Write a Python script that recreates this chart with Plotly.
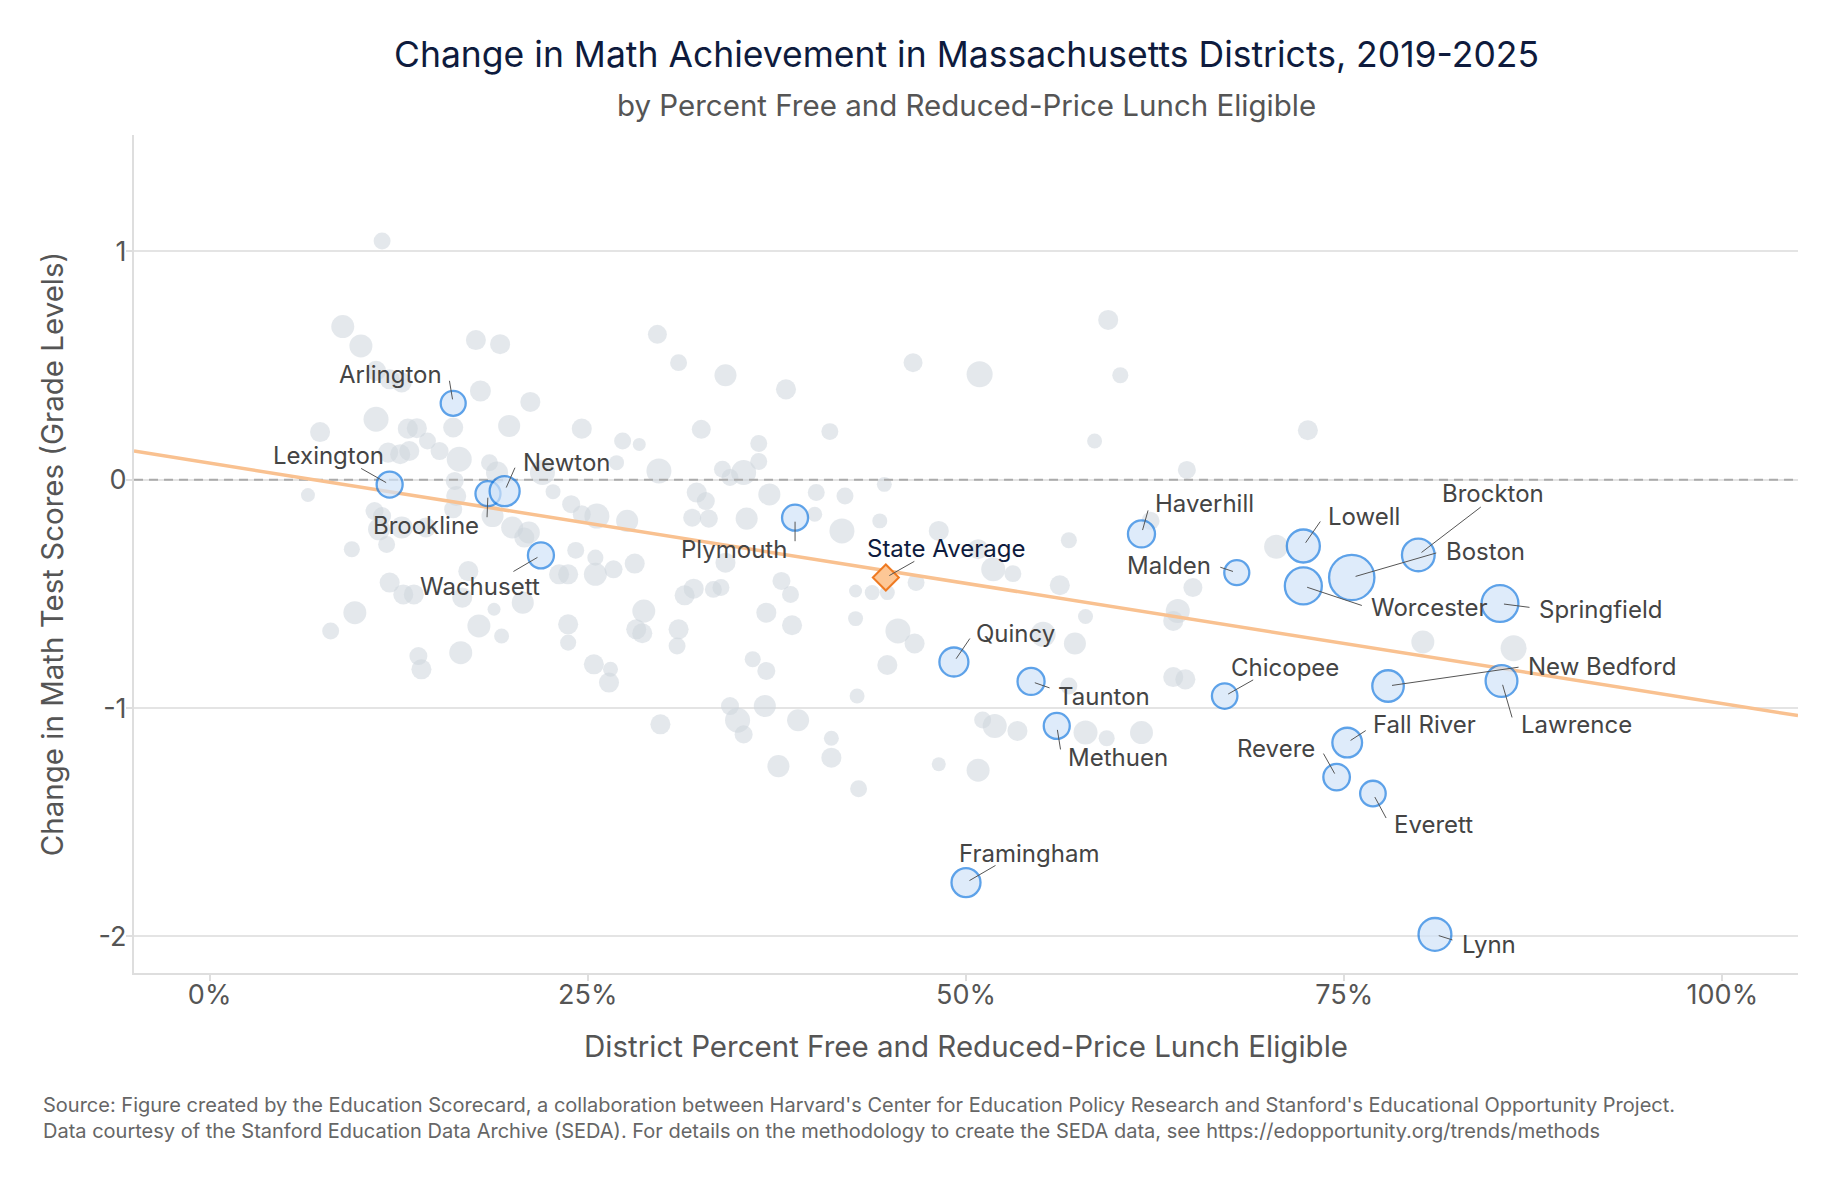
import plotly.graph_objects as go

# ---- data ----
# percent FRL eligible (x), change in grade levels (y), enrollment in thousands (marker area)
gray_frl = [
    11.4, 8.8, 10.0, 17.6, 19.2, 11.0, 11.9, 12.7, 17.9, 21.2, 11.0, 16.1, 19.8, 24.6, 7.3,
    13.1, 13.7, 14.4, 15.2, 11.8, 12.6, 13.2, 16.5, 18.5, 19.0, 22.0, 16.2, 22.7, 6.5, 16.3,
    23.9, 24.6, 25.6, 10.9, 11.4, 16.1, 18.7, 11.2, 12.7, 14.3, 20.0, 21.1, 20.8, 11.7, 9.4,
    24.2, 25.5, 17.1, 23.1, 23.7, 25.5, 11.9, 20.7, 12.8, 13.5, 16.7, 9.6, 18.8, 17.8, 23.7,
    8.0, 19.3, 23.7, 13.8, 16.6, 14.0, 25.4, 29.6, 31.0, 34.1, 38.1, 32.5, 41.0, 27.3, 28.4,
    36.3, 36.3, 29.7, 33.9, 35.3, 34.4, 26.9, 44.6, 32.2, 32.8, 37.0, 40.1, 42.0, 27.6, 31.9,
    33.0, 35.5, 40.0, 41.8, 44.3, 34.1, 28.1, 26.7, 37.8, 38.4, 31.4, 32.0, 33.3, 33.8, 42.7,
    43.8, 44.8, 28.7, 36.8, 38.5, 42.7, 28.2, 28.6, 31.0, 30.9, 26.5, 26.4, 35.9, 36.8, 44.8,
    42.8, 34.4, 36.7, 29.8, 34.9, 35.3, 38.9, 37.6, 41.1, 41.1, 59.4, 46.5, 50.9, 60.2, 58.5,
    72.6, 64.6, 48.2, 56.8, 51.8, 53.1, 50.8, 46.7, 56.2, 70.5, 65.0, 64.0, 63.7, 57.9, 45.5,
    46.6, 55.1, 57.2, 56.8, 63.7, 64.5, 62.2, 51.1, 51.9, 53.4, 57.9, 59.3, 61.6, 42.9, 48.2,
    50.8, 80.2, 86.2,
]
gray_change = [
    1.046, 0.671, 0.586, 0.612, 0.594, 0.477, 0.44, 0.426, 0.389, 0.341, 0.265, 0.229, 0.236, 0.224, 0.209,
    0.224, 0.226, 0.170, 0.126, 0.119, 0.112, 0.126, 0.090, 0.075, 0.032, 0.032, -0.005, -0.052, -0.067, -0.071,
    -0.107, -0.151, -0.159, -0.137, -0.159, -0.129, -0.159, -0.217, -0.209, -0.209, -0.209, -0.231, -0.253, -0.283, -0.304,
    -0.309, -0.341, -0.40, -0.414, -0.414, -0.414, -0.45, -0.538, -0.502, -0.502, -0.516, -0.582, -0.567, -0.64, -0.633,
    -0.662, -0.684, -0.713, -0.772, -0.757, -0.83, -0.808, 0.637, 0.513, 0.458, 0.396, 0.221, 0.211, 0.17, 0.155,
    0.159, 0.08, 0.039, 0.046, 0.032, 0.01, 0.075, -0.02, -0.056, -0.093, -0.064, -0.056, -0.071, -0.18, -0.166,
    -0.17, -0.17, -0.151, -0.224, -0.18, -0.363, -0.367, -0.392, -0.443, -0.502, -0.506, -0.477, -0.48, -0.472, -0.487,
    -0.494, -0.494, -0.575, -0.582, -0.637, -0.608, -0.655, -0.672, -0.655, -0.728, -0.83, -0.888, -0.786, -0.837, -0.811,
    -0.947, -0.991, -0.991, -1.071, -1.053, -1.115, -1.053, -1.254, -1.132, -1.217, 0.70, 0.513, 0.462, 0.458, 0.17,
    0.217, 0.043, -0.224, -0.265, -0.392, -0.411, -0.304, -0.45, -0.462, -0.293, -0.472, -0.575, -0.618, -0.599, -0.662,
    -0.717, -0.677, -0.717, -0.903, -0.864, -0.874, -0.18, -1.052, -1.078, -1.10, -1.107, -1.132, -1.107, -1.353, -1.246,
    -1.272, -0.71, -0.738,
]
gray_enroll = [
    6.8, 12.5, 12.5, 9.5, 9.5, 9.5, 9.5, 9.5, 10.4, 9.5, 14.8, 9.5, 11.5, 9.5, 9.5,
    9.5, 9.5, 6.8, 7.7, 9.5, 9.5, 9.5, 14.8, 6.8, 11.5, 14.8, 7.7, 5.3, 4.6, 9.5,
    7.7, 7.7, 14.8, 7.7, 7.7, 7.7, 11.5, 11.5, 11.5, 9.5, 11.5, 11.5, 9.5, 6.8, 6.1,
    6.8, 6.1, 9.5, 9.5, 9.5, 12.5, 9.5, 11.5, 9.5, 9.5, 9.5, 12.5, 4.0, 12.5, 9.5,
    6.8, 5.3, 6.1, 7.7, 12.5, 9.5, 9.5, 8.5, 6.8, 11.5, 9.5, 8.5, 6.8, 6.8, 4.0,
    6.8, 6.8, 14.8, 6.8, 14.8, 6.8, 5.3, 5.3, 9.5, 7.7, 11.5, 6.8, 6.8, 11.5, 7.7,
    7.7, 11.5, 5.3, 14.8, 5.3, 9.5, 9.5, 7.7, 7.7, 6.8, 9.5, 9.5, 6.8, 6.8, 4.0,
    5.3, 5.3, 12.5, 9.5, 9.5, 5.3, 9.5, 9.5, 9.5, 6.8, 5.3, 9.5, 6.1, 7.7, 9.5,
    5.3, 7.7, 11.5, 9.5, 14.8, 7.7, 11.5, 11.5, 5.3, 9.5, 9.5, 8.5, 16.0, 6.1, 5.3,
    9.5, 7.7, 9.5, 6.1, 13.6, 6.8, 9.5, 6.8, 9.5, 13.6, 8.5, 13.6, 9.5, 5.3, 14.8,
    9.5, 14.8, 11.5, 6.8, 9.5, 9.5, 7.7, 6.8, 13.6, 9.5, 13.6, 6.1, 12.5, 6.8, 4.6,
    12.5, 12.5, 16.0,
]

# named districts
named = [
    "Arlington", "Lexington", "Brookline", "Newton", "Wachusett", "Plymouth",
    "Quincy", "Taunton", "Methuen", "Framingham", "Haverhill", "Malden",
    "Chicopee", "Lowell", "Worcester", "Boston", "Brockton", "Springfield",
    "New Bedford", "Lawrence", "Fall River", "Revere", "Everett", "Lynn",
]
named_frl = [
    16.1, 11.9, 18.4, 19.5, 21.9, 38.7,
    49.2, 54.3, 56.0, 50.0, 61.6, 67.9,
    67.1, 72.3, 72.3, 75.5, 79.9, 85.3,
    77.9, 85.4, 75.2, 74.5, 76.9, 81.0,
]
named_change = [
    0.335, -0.021, -0.061, -0.050, -0.331, -0.166,
    -0.798, -0.883, -1.078, -1.764, -0.237, -0.407,
    -0.947, -0.290, -0.465, -0.428, -0.329, -0.542,
    -0.903, -0.881, -1.151, -1.302, -1.374, -1.991,
]
named_enroll = [
    14.8, 16.0, 14.8, 21.3, 16.0, 16.0,
    19.9, 17.3, 16.0, 19.9, 17.3, 14.8,
    15.4, 25.8, 32.4, 48.6, 25.3, 32.1,
    23.5, 23.9, 20.9, 16.7, 15.5, 25.5,
]

state_frl = 44.7
state_change = -0.428

trend_intercept = 0.073
trend_slope = -0.01053  # grade levels per percentage point

x_ticks = [0, 25, 50, 75, 100]
x_ticklabels = ["0%", "25%", "50%", "75%", "100%"]
y_ticks = [-2, -1, 0, 1]
y_ticklabels = ["-2", "-1", "0", "1"]

X_RANGE = [-5, 105]
Y_RANGE = [-2.16, 1.51]

# label placement: connector tail offset (px) and label offset (px), anchor
label_pos = {
    "Arlington": (-4, -24, -9, -29, "right"),
    "Lexington": (-30, -17, -4, -29, "right"),
    "Brookline": (-1, 25, -7, 32, "right"),
    "Newton": (11, -25, 16, -29, "left"),
    "Wachusett": (-29, 17, 1, 31, "right"),
    "Plymouth": (0, 25, -6, 32, "right"),
    "Quincy": (17, -25, 20, -29, "left"),
    "Taunton": (20, 7, 25, 15, "left"),
    "Methuen": (4, 25, 9, 32, "left"),
    "Framingham": (31, -18, -9, -29, "left"),
    "Haverhill": (7, -25, 12, -30, "left"),
    "Malden": (-18, -6, -24, -7, "right"),
    "Chicopee": (30, -17, 4, -29, "left"),
    "Lowell": (18, -26, 23, -30, "left"),
    "Worcester": (60, 20, 66, 22, "left"),
    "Boston": (86, -25, 92, -26, "left"),
    "Brockton": (64, -49, 75, -61, "center"),
    "Springfield": (31, 4, 37, 6, "left"),
    "New Bedford": (132, -19, 138, -19, "left"),
    "Lawrence": (11, 38, 17, 44, "left"),
    "Fall River": (20, -13, 24, -18, "left"),
    "Revere": (-14, -25, -20, -29, "right"),
    "Everett": (14, 26, 19, 31, "left"),
    "Lynn": (19, 6, 25, 10, "left"),
    "State Average": (30, -17, -21, -29, "left"),
}

FONT = "Inter, 'Open Sans', sans-serif"
C = 6.5  # px of diameter per sqrt(thousand students)
SIZEREF = 2.0 / C ** 2

fig = go.Figure()

fig.add_trace(go.Scatter(
    x=gray_frl, y=gray_change, mode="markers", hoverinfo="skip",
    marker=dict(size=gray_enroll, sizemode="area", sizeref=SIZEREF,
                color="rgba(206,213,221,0.78)", line=dict(width=0)),
))

# reference line at zero
fig.add_trace(go.Scatter(
    x=X_RANGE, y=[0, 0], mode="lines", hoverinfo="skip",
    line=dict(color="#ababab", width=2, dash="9px,6px"),
))

# fitted trend
fig.add_trace(go.Scatter(
    x=X_RANGE, y=[trend_intercept + trend_slope * v for v in X_RANGE],
    mode="lines", hoverinfo="skip",
    line=dict(color="#f9c190", width=3.5),
))

fig.add_trace(go.Scatter(
    x=named_frl, y=named_change, mode="markers", text=named, hoverinfo="text",
    marker=dict(size=named_enroll, sizemode="area", sizeref=SIZEREF,
                color="#d1e3f8", line=dict(color="#1a7be0", width=2.3)),
))

fig.add_trace(go.Scatter(
    x=[state_frl], y=[state_change], mode="markers", hoverinfo="skip",
    marker=dict(symbol="diamond", size=20, color="#fdc796",
                line=dict(color="#ef7a22", width=2)),
))

annotations = []
pts = list(zip(named, named_frl, named_change)) + [("State Average", state_frl, state_change)]
for name, x, y in pts:
    tx, ty, lx, ly, anchor = label_pos[name]
    annotations.append(dict(
        x=x, y=y, text="", showarrow=True, ax=tx, ay=ty,
        arrowhead=0, arrowwidth=1, arrowcolor="#555", standoff=4,
    ))
    annotations.append(dict(
        x=x, y=y, text=name, showarrow=False, xshift=lx, yshift=-ly,
        xanchor=anchor, yanchor="middle",
        font=dict(family=FONT, size=24,
                  color="#0e1b3d" if name == "State Average" else "#444"),
    ))

annotations += [
    dict(xref="paper", yref="paper", x=0.5, y=1.0955, showarrow=False,
         text="Change in Math Achievement in Massachusetts Districts, 2019-2025",
         font=dict(family=FONT, size=35.5, color="#0e1b3d"), yanchor="middle"),
    dict(xref="paper", yref="paper", x=0.5, y=1.0358, showarrow=False,
         text="by Percent Free and Reduced-Price Lunch Eligible",
         font=dict(family=FONT, size=29.5, color="#555"), yanchor="middle"),
    dict(xref="paper", yref="paper", x=-0.0559, y=-0.173, showarrow=False,
         xanchor="left", yanchor="middle", align="left",
         text=("Source: Figure created by the Education Scorecard, a collaboration between Harvard's Center "
               "for Education Policy Research and Stanford's Educational Opportunity Project.<br>"
               "Data courtesy of the Stanford Education Data Archive (SEDA). For details on the methodology "
               "to create the SEDA data, see https://edopportunity.org/trends/methods"),
         font=dict(family=FONT, size=20, color="#666")),
]

fig.update_layout(
    width=1841, height=1182,
    margin=dict(l=134, r=43, t=135, b=209),
    plot_bgcolor="white", paper_bgcolor="white",
    font=dict(family=FONT, color="#555"),
    showlegend=False,
    annotations=annotations,
    xaxis=dict(
        range=X_RANGE, tickmode="array", tickvals=x_ticks, ticktext=x_ticklabels,
        showgrid=False, zeroline=False, showline=True, linecolor="#dedede", linewidth=2,
        ticks="outside", ticklen=6, tickwidth=2, tickcolor="#dedede",
        ticklabelstandoff=-9,
        tickfont=dict(size=27, color="#555"),
        title=dict(text="District Percent Free and Reduced-Price Lunch Eligible",
                   font=dict(size=29.5, color="#555"), standoff=26),
    ),
    yaxis=dict(
        range=Y_RANGE, tickmode="array", tickvals=y_ticks, ticktext=y_ticklabels,
        showgrid=True, gridcolor="#e4e4e4", gridwidth=2, zeroline=False,
        showline=True, linecolor="#dedede", linewidth=2,
        ticks="outside", ticklen=6, tickwidth=2, tickcolor="#dedede",
        ticklabelstandoff=-6,
        tickfont=dict(size=27, color="#555"),
        title=dict(text="Change in Math Test Scores (Grade Levels)",
                   font=dict(size=29.5, color="#555"), standoff=26),
    ),
)

fig.write_html(
    "out.html",
    config={"displayModeBar": False},
    post_script="document.body.style.margin='0';document.body.style.overflow='hidden';",
)
